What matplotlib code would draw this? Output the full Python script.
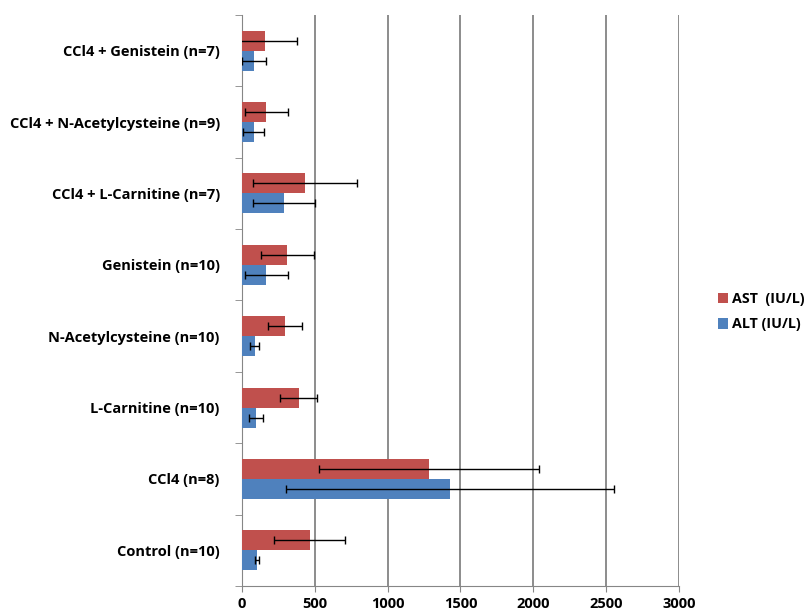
import matplotlib.pyplot as plt
import numpy as np

# groups, bottom to top
groups = ['Control (n=10)', 'CCl4 (n=8)', 'L-Carnitine (n=10)', 'N-Acetylcysteine (n=10)',
          'Genistein (n=10)', 'CCl4 + L-Carnitine (n=7)', 'CCl4 + N-Acetylcysteine (n=9)',
          'CCl4 + Genistein (n=7)']
ast = [465, 1282, 388, 295, 312, 434, 168, 160]
ast_err = [245, 755, 127, 118, 180, 358, 150, 220]
alt = [103, 1430, 95, 88, 168, 286, 80, 80]
alt_err = [15, 1125, 47, 32, 150, 212, 70, 82]

plt.rcParams['font.family'] = ['Open Sans', 'DejaVu Sans']

fig = plt.figure(figsize=(8.11, 6.11), dpi=100)
ax = fig.add_axes([0.2984, 0.0409, 0.5388, 0.9346])

y = np.arange(len(groups))
h = 0.28
ekw = dict(ecolor='black', elinewidth=1, capsize=3, capthick=1)
ax.barh(y + h / 2, ast, height=h, color='#C0504D', xerr=ast_err, error_kw=ekw,
        label='AST  (IU/L)', zorder=3)
ax.barh(y - h / 2, alt, height=h, color='#4F81BD', xerr=alt_err, error_kw=ekw,
        label='ALT (IU/L)', zorder=3)

ax.set_xlim(0, 3000)
ax.set_ylim(-0.5, len(groups) - 0.5)
ax.set_xticks(np.arange(0, 3001, 500))
ax.set_yticks(y)
ax.set_yticklabels(groups, fontweight='bold', fontsize=10.5)
ax.set_yticks(np.arange(-0.5, len(groups)), minor=True)
ax.tick_params(axis='y', which='major', length=0, pad=16)
ax.tick_params(axis='y', which='minor', length=5, color='#868686', direction='out')
ax.tick_params(axis='x', length=4, color='#868686', labelsize=10.5, pad=4)
for lab in ax.get_xticklabels():
    lab.set_fontweight('bold')

ax.grid(axis='x', color='#8c8c8c', linewidth=1.4, zorder=0)
ax.set_axisbelow(True)
for s in ['top', 'right']:
    ax.spines[s].set_visible(False)
ax.spines['left'].set_color('#868686')
ax.spines['bottom'].set_color('#868686')

handles, labels = ax.get_legend_handles_labels()
leg = fig.legend(handles, labels, loc='center left', bbox_to_anchor=(0.885, 0.49),
                 frameon=False, handlelength=0.75, handleheight=0.75, handletextpad=0.25,
                 labelspacing=0.8, borderaxespad=0, borderpad=0,
                 prop={'weight': 'bold', 'size': 10.3})

fig.savefig('out.png', dpi=100)
